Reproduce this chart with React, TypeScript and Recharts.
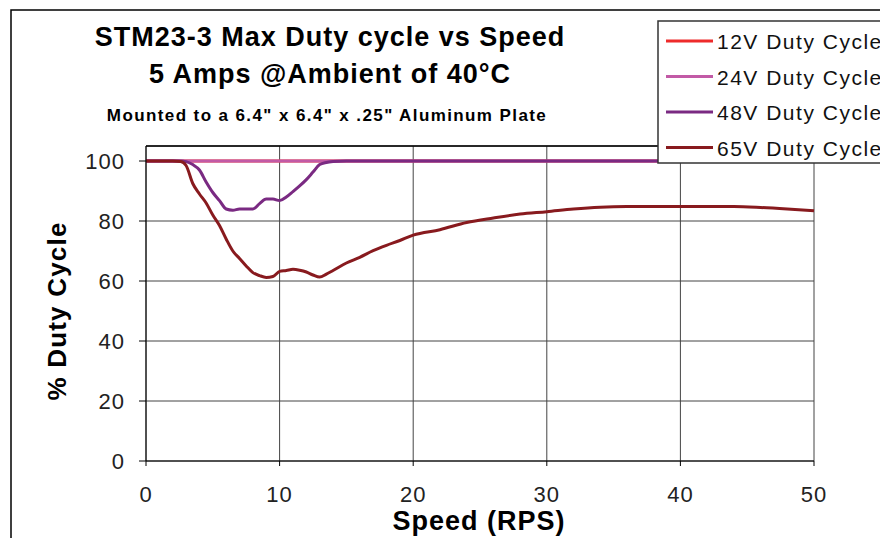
import { LineChart, Line, XAxis, YAxis, CartesianGrid, ReferenceLine } from "recharts"

const speeds = [
  0, 1, 2, 2.6, 3, 3.5, 4, 4.5, 5, 5.5, 6, 6.5, 7, 7.5, 8, 8.5, 9, 9.5, 10, 10.5, 11, 11.5, 12, 12.5, 13,
  13.5, 14, 15, 16, 17, 18, 19, 20, 22, 24, 26, 28, 30, 32, 34, 36, 38, 40, 42, 44, 46, 48, 50,
]

const duty12V = speeds.map(() => 100)
const duty24V = speeds.map(() => 100)

const duty48V = [
  100, 100, 100, 100, 99.8, 98.8, 97, 93, 89.5, 86.8, 84, 83.6, 84, 84, 84, 85.8, 87.3, 87.3, 86.8, 88, 89.8,
  91.7, 93.8, 96.3, 98.8, 99.5, 99.8, 100, 100, 100, 100, 100, 100, 100, 100, 100, 100, 100, 100, 100, 100,
  100, 100, 100, 100, 100, 100, 100,
]

const duty65V = [
  100, 100, 100, 99.8, 98.5, 92.5, 89, 86, 82, 78.5, 74, 70, 67.5, 65, 62.8, 61.8, 61.2, 61.5, 63.2, 63.5,
  63.9, 63.6, 63, 62, 61.3, 62.3, 63.5, 66, 67.9, 70.1, 71.9, 73.5, 75.3, 77.1, 79.5, 81, 82.3, 83.1, 84,
  84.6, 84.8, 84.8, 84.8, 84.8, 84.8, 84.5, 84, 83.4,
]

const xTicks = [0, 10, 20, 30, 40, 50]
const yTicks = [0, 20, 40, 60, 80, 100]

const seriesNames = ["12V Duty Cycle", "24V Duty Cycle", "48V Duty Cycle", "65V Duty Cycle"]
const seriesColors = ["#ee2b2b", "#c25aa6", "#7a2a82", "#881a1e"]

const data = speeds.map((s, i) => ({
  speed: s,
  v12: duty12V[i],
  v24: duty24V[i],
  v48: duty48V[i],
  v65: duty65V[i],
}))

const keys = ["v12", "v24", "v48", "v65"]
const font = "'Liberation Sans', Arial, sans-serif"

export default function App() {
  return (
    <div style={{ position: "absolute", left: 0, top: 0, width: 880, height: 538, background: "#fff" }}>
      <LineChart width={880} height={538} data={data} margin={{ top: 146, right: 66, bottom: 0, left: 0 }}>
        <CartesianGrid stroke="#444" strokeWidth={1} />
        <XAxis
          dataKey="speed"
          type="number"
          domain={[0, 50]}
          ticks={xTicks}
          height={77}
          tickSize={5}
          tickMargin={20}
          stroke="#000"
          tick={{ fontSize: 22, fill: "#222", fontFamily: font, letterSpacing: 1 }}
        />
        <YAxis
          type="number"
          domain={[0, 105]}
          ticks={yTicks}
          width={146}
          tickSize={7}
          tickMargin={14}
          stroke="#000"
          tick={{ fontSize: 22, fill: "#222", fontFamily: font, letterSpacing: 1 }}
        />
        <ReferenceLine y={105} stroke="#000" strokeWidth={1.5} />
        {keys.map((k, i) => (
          <Line
            key={k}
            dataKey={k}
            type="monotone"
            stroke={seriesColors[i]}
            strokeWidth={3}
            dot={false}
            isAnimationActive={false}
          />
        ))}
      </LineChart>
      <svg width={880} height={538} style={{ position: "absolute", left: 0, top: 0, pointerEvents: "none" }}>
        <rect x={11} y={10} width={900} height={560} fill="none" stroke="#000" strokeWidth={1.5} />
        <g fontFamily={font} fontWeight="bold" fill="#000" textAnchor="middle">
          <text x={330} y={46} fontSize={27} letterSpacing={1}>STM23-3 Max Duty cycle vs Speed</text>
          <text x={330} y={83} fontSize={27} letterSpacing={1}>5 Amps @Ambient of 40°C</text>
          <text x={327} y={121} fontSize={17} letterSpacing={1.4}>Mounted to a 6.4" x 6.4" x .25" Aluminum Plate</text>
          <text x={479} y={530} fontSize={27} letterSpacing={1}>Speed (RPS)</text>
          <text x={66} y={311} fontSize={26} letterSpacing={1.2} transform="rotate(-90 66 311)">% Duty Cycle</text>
        </g>
        <rect x={658} y={21} width={240} height={142} fill="#fff" stroke="#333" strokeWidth={1.5} />
        {seriesNames.map((n, i) => {
          const y = 41 + i * 35.5
          return (
            <g key={n}>
              <line x1={666} x2={713} y1={y} y2={y} stroke={seriesColors[i]} strokeWidth={3} />
              <text x={717} y={y + 8} fontSize={21} fontFamily={font} fill="#111" letterSpacing={1.5}>
                {n}
              </text>
            </g>
          )
        })}
      </svg>
    </div>
  )
}
